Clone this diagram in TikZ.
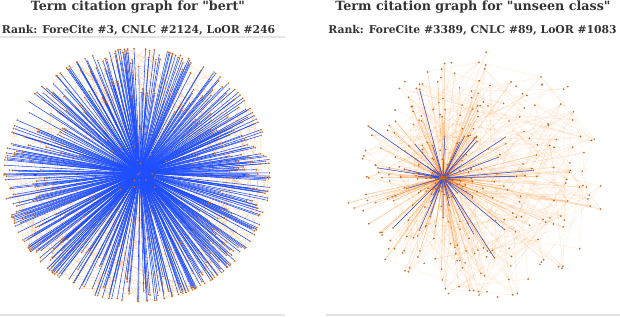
\documentclass[tikz,border=0pt]{standalone}
\usepackage{fontspec}
\setmainfont{DejaVu Serif}[Ligatures=TeXOff]
\usetikzlibrary{backgrounds}
\definecolor{citeBlue}{HTML}{1F4EFF}
\definecolor{citeOrange}{HTML}{FF7F0E}
\definecolor{citeDot}{HTML}{C8661E}
\definecolor{citeGrey}{HTML}{333333}
\definecolor{citeRule}{HTML}{E4E4E4}

\begin{document}
\begin{tikzpicture}[x=1pt,y=-1pt,
          leaf/.style={circle, fill=citeDot, inner sep=0pt, minimum size=1.9pt},
          hub/.style={circle, fill=citeBlue, inner sep=0pt, minimum size=2pt},
          bedge/.style={citeBlue, line width=0.55pt},
          oedge/.style={citeOrange, line width=0.5pt, draw opacity=0.14},
          ttl/.style={font=\fontsize{12.7}{15}\selectfont\bfseries, text=citeGrey, anchor=base},
          sub/.style={font=\fontsize{10.8}{12}\selectfont\bfseries, text=citeGrey, anchor=base},
          every node/.style={align=center}]
        \useasboundingbox (0,0) rectangle (620,316);
        \pgfmathsetseed{2124}
        % titles and rules
        \node[ttl] (t1) at (138,10.5) {Term citation graph for "bert"};
        \node[sub] (s1) at (138.5,33) {Rank: ForeCite \#3, CNLC \#2124, LoOR \#246};
        \node[ttl] (t2) at (473,10.5) {Term citation graph for "unseen class"};
        \node[sub] (s2) at (472.5,33) {Rank: ForeCite \#3389, CNLC \#89, LoOR \#1083};
        \draw[citeRule, line width=1.2pt] (0,37) -- (285,37);
        \draw[citeRule, line width=1.2pt] (0,315) -- (285,315);
        \draw[citeRule, line width=1.2pt] (326,315) -- (620,315);
        % left graph: "bert"
        \coordinate (lc) at (137,175);
        \node[hub] (lhub) at (140,173) {};
        \foreach \i in {1,...,460}{
          \pgfmathsetmacro\ang{360*rnd}
          \pgfmathsetmacro\rad{133*(1-0.4*rnd^3)}
          \path (lc) ++({\rad*cos(\ang)},{0.95*\rad*sin(\ang)}) node[leaf] (l\i) {};
        }
        \foreach \i in {461,...,540}{
          \pgfmathsetmacro\ang{360*rnd}
          \pgfmathsetmacro\rad{125*rnd}
          \path (lc) ++({\rad*cos(\ang)},{0.95*\rad*sin(\ang)}) node[leaf] (l\i) {};
        }
        \begin{scope}[on background layer]
          \foreach \k in {1,...,200}{
            \pgfmathtruncatemacro\p{random(1,540)}
            \pgfmathtruncatemacro\q{random(1,540)}
            \draw[oedge, draw opacity=0.25] (l\p) -- (l\q);
          }
          \foreach \i in {1,...,540} \draw[bedge] (lhub) -- (l\i);
        \end{scope}
        % right graph: "unseen class"
        \coordinate (rc) at (482,176);
        \node[hub] (rhub) at (443,178) {};
        \foreach \i in {1,...,200}{
          \pgfmathsetmacro\ang{360*rnd}
          \pgfmathsetmacro\rad{100*rnd^1.7}
          \path (rhub) ++(\ang:\rad) node[leaf] (q\i) {};
        }
        \foreach \i in {1,...,190}{
          \pgfmathsetmacro\ang{360*rnd}
          \pgfmathsetmacro\rad{124*rnd^0.35}
          \path (rc) ++(\ang:\rad) node[leaf] (r\i) {};
        }
        \begin{scope}[on background layer]
          \foreach \k in {1,...,200}{
            \pgfmathtruncatemacro\p{random(1,190)}
            \pgfmathtruncatemacro\q{random(1,190)}
            \draw[oedge] (r\p) -- (r\q);
          }
          \foreach \k in {1,...,90}{
            \pgfmathtruncatemacro\p{random(1,190)}
            \pgfmathtruncatemacro\q{random(1,200)}
            \draw[oedge] (r\p) -- (q\q);
          }
          \foreach \i in {1,...,200} \draw[oedge, draw opacity=0.5] (rhub) -- (q\i);
          \foreach \i in {1,...,60} \draw[oedge, draw opacity=0.25] (rhub) -- (r\i);
          \foreach \i in {1,...,60} \draw[bedge, line width=0.5pt] (rhub) -- (q\i);
        \end{scope}
      \end{tikzpicture}
\end{document}
